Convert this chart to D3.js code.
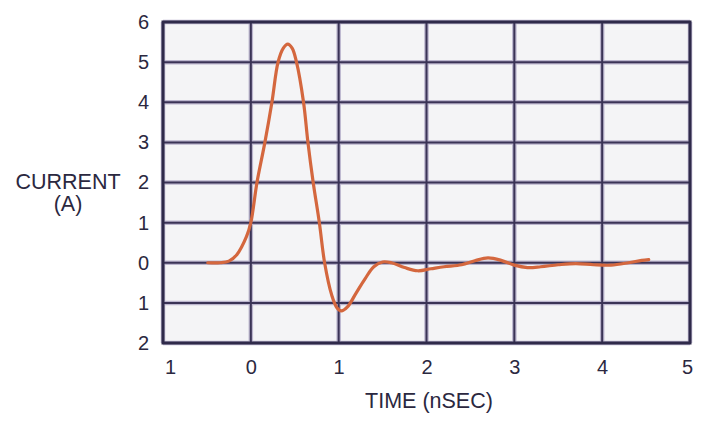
<!DOCTYPE html>
<html>
<head>
<meta charset="utf-8">
<script src="https://cdn.jsdelivr.net/npm/d3@7/dist/d3.min.js"></script>
<style>
  body { margin: 0; background: #fff; }
  text { font-family: "Liberation Sans", Arial, sans-serif; fill: #2b2840; }
</style>
</head>
<body>
<div id="chart"></div>
<script>
// curve: time (nSEC) and current (A)
var timeValues    = [-0.49, -0.35, -0.25, -0.16, -0.05, 0.0, 0.07, 0.16, 0.24, 0.31, 0.37, 0.42, 0.47, 0.52, 0.6, 0.65, 0.71, 0.78, 0.84, 0.92, 0.98, 1.03, 1.1, 1.2, 1.3, 1.4, 1.5, 1.6, 1.75, 1.9, 2.05, 2.2, 2.4, 2.55, 2.7, 2.85, 3.0, 3.15, 3.3, 3.5, 3.7, 3.9, 4.1, 4.3, 4.45, 4.53];
var currentValues = [0.0, 0.0, 0.04, 0.2, 0.65, 1.0, 2.0, 3.0, 4.0, 5.0, 5.35, 5.45, 5.35, 5.0, 4.0, 3.0, 2.0, 1.0, 0.0, -0.8, -1.12, -1.2, -1.1, -0.75, -0.4, -0.1, 0.02, 0.0, -0.12, -0.2, -0.15, -0.1, -0.05, 0.05, 0.12, 0.06, -0.06, -0.12, -0.1, -0.05, -0.02, -0.05, -0.06, 0.0, 0.06, 0.08];

var xTicks = [-1, 0, 1, 2, 3, 4, 5];
var yTicks = [-2, -1, 0, 1, 2, 3, 4, 5, 6];
var xTitle = "TIME (nSEC)";
var yTitle = ["CURRENT", "(A)"];

var W = 709, H = 425;
var margin = {top: 22, right: 19, bottom: 82, left: 163};
var width = W - margin.left - margin.right;
var height = H - margin.top - margin.bottom;

var svg = d3.select("#chart").append("svg")
    .attr("width", W)
    .attr("height", H);

var g = svg.append("g")
    .attr("transform", "translate(" + margin.left + "," + margin.top + ")");

var x = d3.scaleLinear().domain([-1, 5]).range([0, width]);
var y = d3.scaleLinear().domain([-2, 6]).range([height, 0]);

// plot background
g.append("rect")
    .attr("width", width)
    .attr("height", height)
    .attr("fill", "#f4f4f6");

// grid: soft halo below, dark line on top
var grid = g.append("g");
[{w: 4.5, c: "#bbb5cd"}, {w: 2, c: "#3a3356"}].forEach(function(s) {
    grid.selectAll(null).data(xTicks).enter().append("line")
        .attr("x1", function(d) { return x(d); })
        .attr("x2", function(d) { return x(d); })
        .attr("y1", 0).attr("y2", height)
        .attr("stroke", s.c).attr("stroke-width", s.w);
    grid.selectAll(null).data(yTicks).enter().append("line")
        .attr("y1", function(d) { return y(d); })
        .attr("y2", function(d) { return y(d); })
        .attr("x1", 0).attr("x2", width)
        .attr("stroke", s.c).attr("stroke-width", s.w);
});

g.append("rect")
    .attr("width", width)
    .attr("height", height)
    .attr("fill", "none")
    .attr("stroke", "#2f2a4a")
    .attr("stroke-width", 3);

// axes labels (the picture drops the minus signs)
var xAxis = d3.axisBottom(x).tickValues(xTicks).tickSize(0).tickPadding(17)
    .tickFormat(function(d) { return Math.abs(d); });
var yAxis = d3.axisLeft(y).tickValues(yTicks).tickSize(0).tickPadding(14)
    .tickFormat(function(d) { return Math.abs(d); });

var gx = g.append("g").attr("transform", "translate(0," + height + ")").call(xAxis);
var gy = g.append("g").call(yAxis);
[gx, gy].forEach(function(a) {
    a.select(".domain").remove();
    a.selectAll("text").style("font-size", "20px").attr("fill", "#2b2840")
        .style("font-family", "'Liberation Sans', Arial, sans-serif");
});
// the first and last x labels sit slightly inside in the picture
gx.selectAll("text").attr("dx", function(d) { return d === -1 ? 7 : (d === 5 ? -3 : 0); });

// curve
var line = d3.line()
    .x(function(d, i) { return x(timeValues[i]); })
    .y(function(d) { return y(d); })
    .curve(d3.curveCatmullRom.alpha(0.5));

g.append("path")
    .datum(currentValues)
    .attr("d", line)
    .attr("fill", "none")
    .attr("stroke", "#d4673e")
    .attr("stroke-width", 3.2)
    .attr("stroke-linejoin", "round")
    .attr("stroke-linecap", "round");

// titles
svg.append("text")
    .attr("x", 429)
    .attr("y", 408)
    .attr("text-anchor", "middle")
    .style("font-size", "21.5px")
    .text(xTitle);

svg.append("text")
    .attr("text-anchor", "middle")
    .style("font-size", "21.5px")
    .selectAll("tspan").data(yTitle).enter().append("tspan")
    .attr("x", 68)
    .attr("y", function(d, i) { return i ? 211 : 189; })
    .text(function(d) { return d; });
</script>
</body>
</html>
